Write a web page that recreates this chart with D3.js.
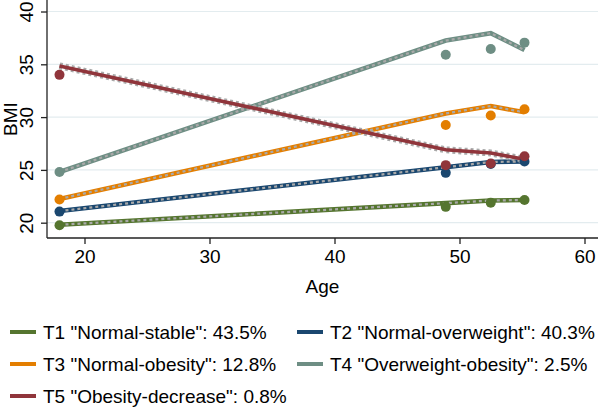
<!DOCTYPE html>
<html>
<head>
<meta charset="utf-8">
<script src="https://cdn.jsdelivr.net/npm/d3@7"></script>
<style>
  html, body { margin: 0; padding: 0; background: #fff; }
  svg { display: block; font-family: "Liberation Sans", Arial, Helvetica, sans-serif; }
</style>
</head>
<body>
<svg id="chart" width="598" height="408"></svg>
<script>
// ---- Data ----
const ages = [18, 48.9, 52.5, 55.2];
const seriesNames = [
  'T1 "Normal-stable": 43.5%',
  'T2 "Normal-overweight": 40.3%',
  'T3 "Normal-obesity": 12.8%',
  'T4 "Overweight-obesity": 2.5%',
  'T5 "Obesity-decrease": 0.8%'
];
const seriesColors = ["#55752f", "#1a476f", "#e37e00", "#6e8e84", "#90353b"];
// observed means (dots)
const obsT1 = [19.75, 21.5, 21.9, 22.15];
const obsT2 = [21.05, 24.72, 25.55, 25.8];
const obsT3 = [22.2, 29.25, 30.15, 30.75];
const obsT4 = [24.8, 35.9, 36.45, 37.05];
const obsT5 = [34.0, 25.45, 25.6, 26.3];
// fitted trajectories (lines)
const fitT1 = [19.8, 21.85, 22.1, 22.15];
const fitT2 = [21.1, 25.25, 25.75, 25.8];
const fitT3 = [22.25, 30.35, 31.05, 30.45];
const fitT4 = [24.8, 37.25, 37.95, 36.35];
const fitT5 = [34.85, 26.9, 26.6, 26.0];
const xTicks = [20, 30, 40, 50, 60];
const yTicks = [20, 25, 30, 35, 40];
const xTitle = "Age";
const yTitle = "BMI";

const obs = [obsT1, obsT2, obsT3, obsT4, obsT5];
const fit = [fitT1, fitT2, fitT3, fitT4, fitT5];

// ---- Layout ----
const svg = d3.select("#chart");
const pLeft = 47, pRight = 598, pTop = 0, pBottom = 238;
const x = d3.scaleLinear().domain([17.0, 61.08]).range([pLeft, pRight]);
const y = d3.scaleLinear().domain([18.55, 41.09]).range([pBottom, pTop]);
const fontSize = 19;

// grid
svg.append("g").selectAll("line").data(yTicks).join("line")
  .attr("x1", pLeft).attr("x2", pRight)
  .attr("y1", d => y(d)).attr("y2", d => y(d))
  .attr("stroke", "#e3ecef").attr("stroke-width", 1.2);

// axes
const xAxis = svg.append("g").attr("transform", `translate(0,${pBottom})`)
  .call(d3.axisBottom(x).tickValues(xTicks).tickSize(6).tickPadding(6).tickSizeOuter(0));
const yAxis = svg.append("g").attr("transform", `translate(${pLeft},0)`)
  .call(d3.axisLeft(y).tickValues(yTicks).tickSize(6).tickPadding(6).tickSizeOuter(0));
[xAxis, yAxis].forEach(a => {
  a.select(".domain").attr("stroke", "#222").attr("stroke-width", 1.3);
  a.selectAll(".tick line").attr("stroke", "#222").attr("stroke-width", 1.3);
  a.selectAll(".tick text").attr("fill", "#000").style("font-size", fontSize + "px")
    .style("font-family", '"Liberation Sans", Arial, sans-serif');
});
xAxis.select(".domain").attr("d", `M${pLeft},0H${pRight}`);
yAxis.select(".domain").attr("d", `M0,${pTop}V${pBottom}`);
xAxis.selectAll(".tick text").attr("dy", "0.71em");
// rotated y tick labels
yAxis.selectAll(".tick text")
  .attr("x", null).attr("dy", null)
  .attr("text-anchor", "middle")
  .attr("transform", "translate(-14,0) rotate(-90)");

// axis titles
svg.append("text").attr("x", (pLeft + pRight) / 2).attr("y", 293)
  .attr("text-anchor", "middle").style("font-size", fontSize + "px").text(xTitle);
svg.append("text").attr("transform", `translate(17,${(pTop + pBottom) / 2}) rotate(-90)`)
  .attr("text-anchor", "middle").style("font-size", fontSize + "px").text(yTitle);

// lines
const line = d3.line().x((d, i) => x(ages[i])).y(d => y(d));
const lg = svg.append("g");
fit.forEach((vals, k) => {
  if (k === 4) {
    lg.append("path").attr("d", line(vals)).attr("fill", "none")
      .attr("stroke", "#a9a9a9").attr("stroke-width", 7).attr("stroke-dasharray", "3 3");
    lg.append("path").attr("d", line(vals)).attr("fill", "none")
      .attr("stroke", seriesColors[k]).attr("stroke-width", 3.6);
  } else {
    lg.append("path").attr("d", line(vals)).attr("fill", "none")
      .attr("stroke", seriesColors[k]).attr("stroke-width", 4.6);
    lg.append("path").attr("d", line(vals)).attr("fill", "none")
      .attr("stroke", "#a9a9a9").attr("stroke-width", 2.2).attr("stroke-dasharray", "3 3");
  }
});

// points
const pg = svg.append("g");
obs.forEach((vals, k) => {
  pg.selectAll(null).data(vals).join("circle")
    .attr("cx", (d, i) => x(ages[i])).attr("cy", d => y(d)).attr("r", 5)
    .attr("fill", seriesColors[k]);
});

// legend
const legPos = [[10, 332], [297, 332], [10, 364], [297, 364], [10, 396]];
const leg = svg.append("g");
seriesNames.forEach((name, k) => {
  const [lx, ly] = legPos[k];
  leg.append("line").attr("x1", lx).attr("x2", lx + 26).attr("y1", ly).attr("y2", ly)
    .attr("stroke", seriesColors[k]).attr("stroke-width", 4);
  leg.append("text").attr("x", lx + 33).attr("y", ly).attr("dy", "0.36em")
    .style("font-size", fontSize + "px").text(name);
});
</script>
</body>
</html>
